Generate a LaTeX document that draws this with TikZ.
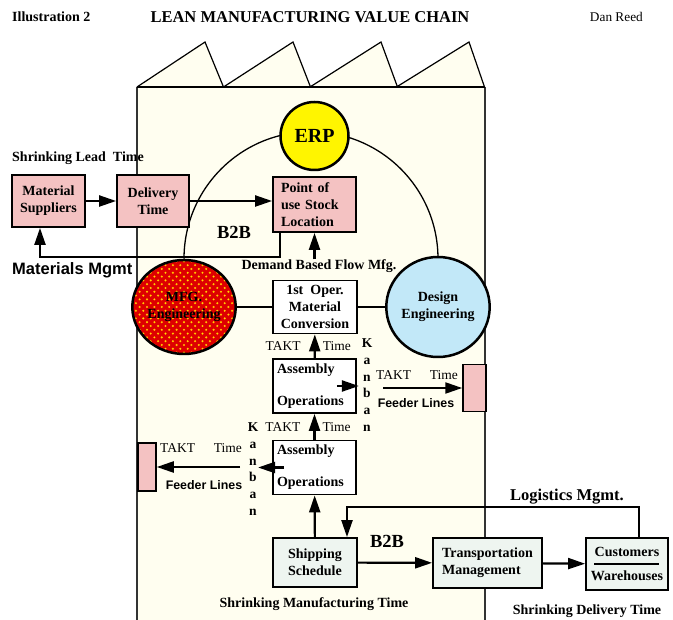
\documentclass[tikz,border=0pt]{standalone}
\usepackage{fontspec}
\setmainfont{Liberation Serif}
\newfontfamily\arialfont{Liberation Sans}
\usetikzlibrary{arrows.meta,backgrounds,shapes.geometric}

\definecolor{factory}{HTML}{FFFEF0}
\definecolor{boxpink}{HTML}{F4C2C2}
\definecolor{boxgreen}{HTML}{EEF5F0}
\definecolor{erpyellow}{HTML}{FFF500}
\definecolor{mfgred}{HTML}{DD0000}
\definecolor{dotorange}{HTML}{FFA800}
\definecolor{dotyellow}{HTML}{FFE600}
\definecolor{designblue}{HTML}{C2E8F8}

\newcommand\boxfont{\fontsize{14}{16.8}\selectfont\bfseries}
\newcommand\taktfont{\fontsize{13.5}{16}\selectfont}
\newcommand\feederfont{\arialfont\fontsize{12.4}{15}\selectfont\bfseries}

\begin{document}
\begin{tikzpicture}[x=1pt,y=-1pt,
  arr/.style={line width=2.2pt,-{Triangle[length=17pt,width=11pt]}},
  box/.style={draw,line width=1.8pt,rectangle,inner sep=2pt,align=center,font=\boxfont},
  pinkbox/.style={box,fill=boxpink},
  whitebox/.style={box,fill=white},
  greenbox/.style={box,fill=boxgreen},
  asmbox/.style={whitebox,align=left,text width=75pt,inner xsep=4pt,minimum height=54pt},
  lbl/.style={font=\boxfont,inner sep=0pt},
  takt/.style={font=\taktfont,inner sep=0pt},
  feeder/.style={font=\feederfont,inner sep=0pt},
  kanban/.style={align=center,font=\fontsize{13.5}{16.8}\selectfont\bfseries,inner sep=0pt},
  blob/.style={ellipse,draw,line width=2.5pt,font=\boxfont,align=center,inner sep=0pt}
]
\useasboundingbox (0,0) rectangle (673,620);

% heading
\node[font=\fontsize{14}{17}\selectfont\bfseries,anchor=west,inner sep=0pt] (illus) at (12,17) {Illustration 2};
\node[font=\fontsize{16.5}{20}\selectfont\bfseries,inner sep=0pt] (title) at (310,17) {LEAN MANUFACTURING VALUE CHAIN};
\node[font=\fontsize{13.3}{16}\selectfont,anchor=east,inner sep=0pt] (author) at (643,17) {Dan Reed};

% circles
\node[blob,circle,fill=erpyellow,minimum size=68pt,font=\fontsize{20}{24}\selectfont\bfseries] (erp) at (314.5,136) {ERP};
\node[blob,fill=mfgred,minimum width=91pt,minimum height=94pt,
  path picture={
    \foreach \j in {-13,...,13}
      \foreach \i in {-7,...,7} {
        \fill[dotorange] ([shift={({\i*7.4+3.7*mod(abs(\j),2)},{\j*3.8})}]path picture bounding box.center) circle[radius=1.2pt];
        \fill[dotyellow] ([shift={({\i*7.4+3.7*mod(abs(\j),2)},{\j*3.8})}]path picture bounding box.center) circle[radius=0.6pt];
      }
  }] (mfg) at (184,307) {MFG.\\Engineering};
\node[blob,fill=designblue,minimum width=90pt,minimum height=100pt] (design) at (438,307) {Design\\Engineering};

% supply side
\node[pinkbox,minimum width=73pt,minimum height=52pt] (sup) at (48.5,201) {Material\\Suppliers};
\node[pinkbox,minimum width=72pt,minimum height=52pt] (deliv) at (153,201) {Delivery\\Time};
\node[pinkbox,align=left,text width=67pt,inner xsep=8pt,minimum height=55pt] (pou) at (314.5,204.5) {Point of\\use Stock\\Location};
\node[lbl,anchor=west] (leadtime) at (12,158) {Shrinking Lead\ \ Time};
\node[font=\arialfont\fontsize{16.5}{20}\selectfont\bfseries,inner sep=0pt,anchor=west] (matmgmt) at (12,270) {Materials Mgmt};
\node[lbl,font=\fontsize{18.5}{22}\selectfont\bfseries] (btob1) at (234,232.5) {B2B};
\node[lbl] (demand) at (319,266) {Demand Based Flow Mfg.};

% production column
\node[whitebox,minimum width=84pt,minimum height=53pt] (conv) at (315,307) {1st\ \ Oper.\\Material\\Conversion};
\node[asmbox] (asm1) at (314.5,386) {Assembly\\[15pt]Operations};
\node[asmbox] (asm2) at (314.5,467.5) {Assembly\\[15pt]Operations};
\node[kanban] (kan1) at (367,385) {K\\a\\n\\b\\a\\n};
\node[kanban] (kan2) at (253,469) {K\\a\\n\\b\\a\\n};

% feeder lines
\node[draw,line width=1.5pt,fill=boxpink,minimum width=23pt,minimum height=47pt,inner sep=0pt] (fdr) at (474.5,388) {};
\node[draw,line width=1.5pt,fill=boxpink,minimum width=18pt,minimum height=48pt,inner sep=0pt] (fdl) at (147,467) {};
\coordinate (fr) at (383,388);
\coordinate (fl) at (240,467);
\node[takt,anchor=west] (takt3) at (376,375) {TAKT};
\node[takt,anchor=east] (time3) at (458,375) {Time};
\node[feeder] (feed1) at (416,403) {Feeder Lines};
\node[takt,anchor=west] (takt4) at (160,448) {TAKT};
\node[takt,anchor=east] (time4) at (242,448) {Time};
\node[feeder] (feed2) at (204,485) {Feeder Lines};

% distribution
\node[greenbox,minimum width=84pt,minimum height=49pt] (ship) at (315,562.5) {Shipping\\Schedule};
\node[greenbox,align=left,minimum width=109pt,minimum height=50pt] (trans) at (487.5,563) {Transportation\\Management};
\node[greenbox,minimum width=82pt,minimum height=52pt] (cust) at (627,564) {Customers\\[7pt]Warehouses};
\node[lbl,font=\fontsize{18.5}{22}\selectfont\bfseries] (btob2) at (387,541.5) {B2B};
\node[lbl,font=\fontsize{16.5}{20}\selectfont\bfseries] (logmgmt) at (567,497) {Logistics Mgmt.};
\node[lbl] (mfgtime) at (314,604) {Shrinking Manufacturing Time};
\node[lbl] (deltime) at (587,611) {Shrinking Delivery Time};

% connectors
\draw[arr] (sup) -- (deliv);
\draw[arr] (deliv.east) -- (deliv.east -| pou.west);
\draw[arr] ([xshift=8pt]pou.south west) -- ++(0,24) -| ([xshift=-8.5pt]sup.south);
\draw[arr] (demand.north -| pou.south) -- (pou.south);
\draw[line width=2pt] (mfg) -- (conv) (conv) -- (design);
\draw[arr] (asm1) -- (conv) node[midway,left=13pt,takt]{TAKT} node[midway,right=7pt,takt]{Time};
\draw[arr] (asm2) -- (asm1) node[midway,left=13pt,takt]{TAKT} node[midway,right=7pt,takt]{Time};
\draw[arr] ([xshift=-20pt]asm1.east) -- ([xshift=2pt]asm1.east);
\draw[arr] (fr) -- (fdr);
\draw[arr] ([xshift=12pt]asm2.west) -- ([xshift=-14pt]asm2.west);
\draw[arr] (fl) -- (fdl);
\draw[arr] (ship) -- (asm2);
\draw[arr] (ship) -- (trans);
\draw[arr] (trans) -- (cust);
\draw[arr] ([xshift=12pt]cust.north) -- ++(0,-30) -| ([xshift=32pt]ship.north);
\draw[line width=1.2pt] ([xshift=9pt]cust.west) -- ([xshift=-10pt]cust.east);

\begin{scope}[on background layer]
  \foreach \i in {0,...,3}
    \filldraw[fill=factory,line width=1.2pt] ({137+86.5*\i},87) -- ++({68+1.5*\i},-45) -- ({223.5+87*\i},87);
  \fill[factory] (137,87) rectangle (485,620);
  \draw[line width=1.2pt,black!80] (137,620) -- (137,87) (485,87) -- (485,620);
  \draw[line width=2.5pt] (137,87) -- (485,87);
  \draw[line width=1.3pt] (mfg.north) arc[start angle=180,end angle=0,radius=127pt];
\end{scope}
\end{tikzpicture}
\end{document}
